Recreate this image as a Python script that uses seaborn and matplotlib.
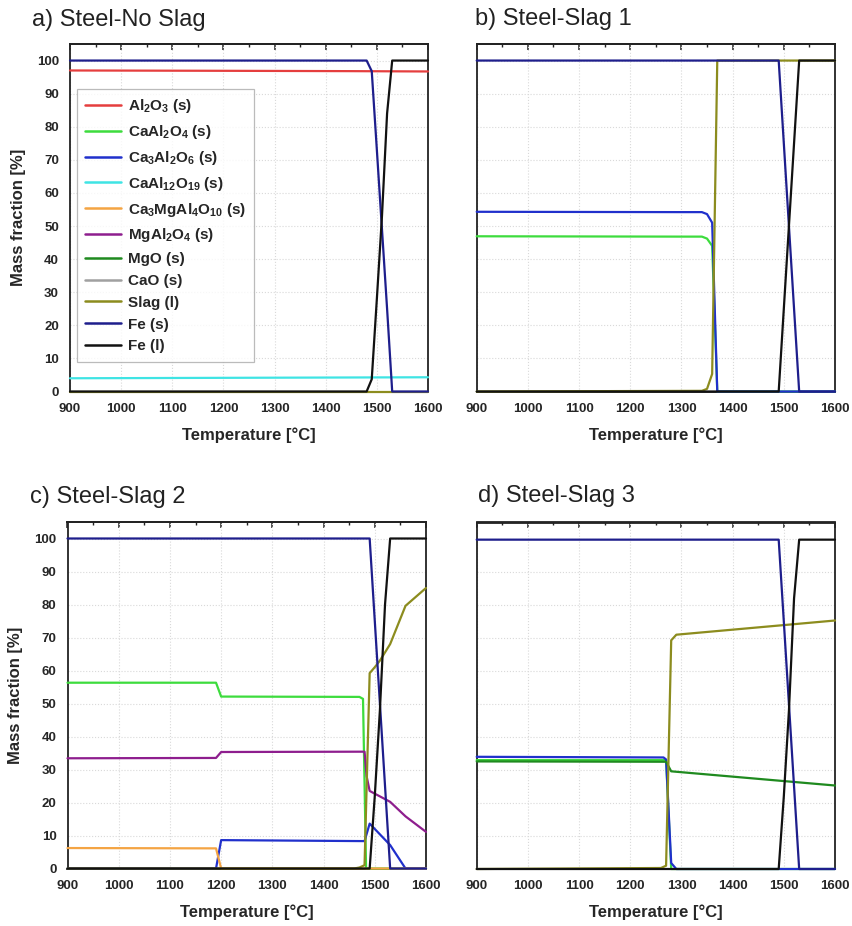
import matplotlib
matplotlib.use('Agg')
import matplotlib.pyplot as plt
import seaborn as sns
import pandas as pd
from matplotlib.lines import Line2D
from matplotlib.ticker import MultipleLocator

# ---------------- data ----------------
phase_names = [r'Al$_2$O$_3$ (s)', r'CaAl$_2$O$_4$ (s)', r'Ca$_3$Al$_2$O$_6$ (s)',
               r'CaAl$_{12}$O$_{19}$ (s)', r'Ca$_3$MgAl$_4$O$_{10}$ (s)', r'MgAl$_2$O$_4$ (s)',
               'MgO (s)', 'CaO (s)', 'Slag (l)', 'Fe (s)', 'Fe (l)']
phase_colors = ['#e53e3e', '#3ddc3d', '#2030cc', '#3fe4e4', '#f4a443', '#8e1e8e',
                '#1f8a1f', '#a0a0a0', '#8c8c1e', '#1e1e8c', '#111111']

panel_titles = ['a) Steel-No Slag', 'b) Steel-Slag 1', 'c) Steel-Slag 2', 'd) Steel-Slag 3']
x_ticks = [900, 1000, 1100, 1200, 1300, 1400, 1500, 1600]
y_ticks = [0, 10, 20, 30, 40, 50, 60, 70, 80, 90, 100]

# panel a
a_al2o3_T = [900, 1200, 1450, 1600]
a_al2o3_v = [97.0, 96.9, 96.8, 96.7]
a_caal12o19_T = [900, 1600]
a_caal12o19_v = [4.0, 4.3]
a_slag_T = [900, 1600]
a_slag_v = [0, 0]
a_fes_T = [900, 1480, 1490, 1500, 1510, 1520, 1530, 1600]
a_fes_v = [100, 100, 96.8, 73, 49, 25, 0, 0]
a_fel_T = [900, 1480, 1490, 1500, 1510, 1520, 1530, 1600]
a_fel_v = [0, 0, 3.7, 28, 53, 84, 100, 100]

# panel b
b_caal2o4_T = [900, 1300, 1340, 1350, 1360, 1370, 1600]
b_caal2o4_v = [46.9, 46.8, 46.8, 46.2, 44.0, 0, 0]
b_ca3al2o6_T = [900, 1300, 1340, 1350, 1360, 1370, 1600]
b_ca3al2o6_v = [54.3, 54.2, 54.2, 53.6, 51.0, 0, 0]
b_slag_T = [900, 1340, 1350, 1360, 1370, 1600]
b_slag_v = [0, 0.2, 0.8, 5.3, 100, 100]
b_fes_T = [900, 1490, 1500, 1510, 1520, 1530, 1600]
b_fes_v = [100, 100, 75, 50, 25, 0, 0]
b_fel_T = [900, 1490, 1500, 1510, 1520, 1530, 1600]
b_fel_v = [0, 0, 25, 50, 75, 100, 100]

# panel c
c_caal2o4_T = [900, 1190, 1200, 1470, 1477, 1483, 1600]
c_caal2o4_v = [56.3, 56.3, 52.1, 52.0, 51.4, 0, 0]
c_ca3al2o6_T = [900, 1190, 1200, 1480, 1490, 1530, 1560, 1600]
c_ca3al2o6_v = [0, 0, 8.6, 8.3, 13.6, 7.1, 0, 0]
c_ca3mgal4o10_T = [900, 1190, 1200, 1600]
c_ca3mgal4o10_v = [6.2, 6.1, 0, 0]
c_mgal2o4_T = [900, 1190, 1200, 1480, 1484, 1490, 1530, 1560, 1600]
c_mgal2o4_v = [33.4, 33.5, 35.3, 35.4, 28.0, 23.5, 20.2, 15.8, 11.1]
c_slag_T = [900, 1460, 1470, 1480, 1490, 1500, 1510, 1530, 1560, 1600]
c_slag_v = [0, 0, 0.3, 1.0, 59.2, 61.0, 63.0, 68.0, 79.6, 85.0]
c_fes_T = [900, 1490, 1500, 1510, 1520, 1530, 1600]
c_fes_v = [100, 100, 75, 50, 25, 0, 0]
c_fel_T = [900, 1490, 1500, 1510, 1520, 1530, 1600]
c_fel_v = [0, 0, 22, 48, 80, 100, 100]

# panel d
d_caal2o4_T = [900, 1270, 1280, 1600]
d_caal2o4_v = [33.0, 33.0, 0, 0]
d_ca3al2o6_T = [900, 1265, 1270, 1280, 1290, 1600]
d_ca3al2o6_v = [34.0, 33.8, 33.2, 1.8, 0, 0]
d_mgo_T = [900, 1270, 1280, 1600]
d_mgo_v = [32.6, 32.5, 29.6, 25.3]
d_slag_T = [900, 1260, 1270, 1280, 1290, 1600]
d_slag_v = [0, 0.3, 1.0, 69.3, 71.0, 75.3]
d_fes_T = [900, 1490, 1500, 1510, 1520, 1530, 1600]
d_fes_v = [99.8, 99.8, 75, 50, 25, 0, 0]
d_fel_T = [900, 1490, 1500, 1510, 1520, 1530, 1600]
d_fel_v = [0, 0, 22, 48, 82, 99.8, 99.8]

# (phase index, T, values) per panel
panel_series = [
    [(0, a_al2o3_T, a_al2o3_v), (3, a_caal12o19_T, a_caal12o19_v), (8, a_slag_T, a_slag_v),
     (9, a_fes_T, a_fes_v), (10, a_fel_T, a_fel_v)],
    [(1, b_caal2o4_T, b_caal2o4_v), (2, b_ca3al2o6_T, b_ca3al2o6_v), (8, b_slag_T, b_slag_v),
     (9, b_fes_T, b_fes_v), (10, b_fel_T, b_fel_v)],
    [(4, c_ca3mgal4o10_T, c_ca3mgal4o10_v), (1, c_caal2o4_T, c_caal2o4_v),
     (2, c_ca3al2o6_T, c_ca3al2o6_v), (5, c_mgal2o4_T, c_mgal2o4_v), (8, c_slag_T, c_slag_v),
     (9, c_fes_T, c_fes_v), (10, c_fel_T, c_fel_v)],
    [(2, d_ca3al2o6_T, d_ca3al2o6_v), (1, d_caal2o4_T, d_caal2o4_v), (6, d_mgo_T, d_mgo_v),
     (8, d_slag_T, d_slag_v), (9, d_fes_T, d_fes_v), (10, d_fel_T, d_fel_v)],
]

# ---------------- style ----------------
sns.set_theme(style='white')
plt.rcParams['font.family'] = ['Liberation Sans', 'DejaVu Sans']
plt.rcParams['mathtext.fontset'] = 'custom'
plt.rcParams['mathtext.rm'] = 'Liberation Sans:bold'
plt.rcParams['mathtext.it'] = 'Liberation Sans:bold'
plt.rcParams['mathtext.bf'] = 'Liberation Sans:bold'
plt.rcParams['mathtext.default'] = 'rm'

W, H = 852, 926
fig = plt.figure(figsize=(W / 100, H / 100), dpi=100)

# axes rectangles in pixels: left, top, right, bottom
rects_px = [(70, 44, 428, 391.5), (476.7, 44, 835, 391.5),
            (67.5, 522, 426, 868.5), (476.7, 522.5, 835, 869)]
title_px = [(32, 20), (475, 19), (30, 497), (478, 496)]

for i, (l, t, r, b) in enumerate(rects_px):
    ax = fig.add_axes([l / W, 1 - b / H, (r - l) / W, (b - t) / H])
    for idx, T, v in panel_series[i]:
        df = pd.DataFrame({'T': T, 'v': v})
        sns.lineplot(data=df, x='T', y='v', ax=ax, color=phase_colors[idx], lw=1.6,
                     estimator=None, sort=False, clip_on=False, zorder=3 + idx * 0.01)
    ax.set_xlim(900, 1600)
    ax.set_ylim(0, 105)
    ax.set_xticks(x_ticks)
    ax.set_xticklabels([str(x) for x in x_ticks])
    ax.xaxis.set_minor_locator(MultipleLocator(50))
    ax.tick_params(axis='x', which='major', direction='out', length=4.5, width=1.1,
                   color='#222222', pad=3.5, labelsize=9.5)
    ax.tick_params(axis='x', which='minor', direction='out', length=2.5, width=1.0,
                   color='#222222')
    for lab in ax.get_xticklabels():
        lab.set_fontweight('bold')
    if i in (0, 2):
        ax.set_yticks(y_ticks)
        ax.set_yticklabels([str(y) for y in y_ticks])
        ax.yaxis.set_minor_locator(MultipleLocator(5))
        ax.tick_params(axis='y', which='major', direction='out', length=4.5, width=1.1,
                       color='#222222', pad=3.5, labelsize=9.5)
        ax.tick_params(axis='y', which='minor', direction='out', length=2.5, width=1.0,
                       color='#222222')
        for lab in ax.get_yticklabels():
            lab.set_fontweight('bold')
        ax.set_ylabel('Mass fraction [%]', fontsize=12, fontweight='bold', labelpad=8)
    else:
        ax.set_yticks(y_ticks)
        ax.set_yticklabels([])
        ax.tick_params(axis='y', which='both', length=0)
        ax.set_ylabel('')
    ax.set_xlabel('Temperature [°C]', fontsize=12, fontweight='bold', labelpad=9)
    ax.grid(True, which='major', linestyle=':', color='#d9d9d9', lw=0.8)
    ax.set_axisbelow(True)
    for s in ax.spines.values():
        s.set_visible(True)
        s.set_color('#222222')
        s.set_linewidth(1.3)
    sec = ax.secondary_xaxis('top')
    sec.set_xticks(x_ticks)
    sec.xaxis.set_minor_locator(MultipleLocator(50))
    sec.tick_params(axis='x', which='major', direction='in', length=4, width=1.1,
                    color='#222222', labeltop=False)
    sec.tick_params(axis='x', which='minor', direction='in', length=2.5, width=1.0,
                    color='#222222')
    sec.spines['top'].set_color('#222222')
    sec.spines['top'].set_linewidth(1.3)

    tx, ty = title_px[i]
    fig.text(tx / W, 1 - ty / H, panel_titles[i], fontsize=17, ha='left', va='center',
             color='#222222')

    if i == 0:
        handles = [Line2D([0], [0], color=c, lw=1.8) for c in phase_colors]
        leg = ax.legend(handles, phase_names, loc='upper left',
                        bbox_to_anchor=(0.0187, 0.8705), borderaxespad=0,
                        frameon=True, fancybox=False, edgecolor='#aaaaaa',
                        prop={'weight': 'bold', 'size': 11}, handlelength=2.35,
                        handletextpad=0.45, labelspacing=0.51, borderpad=0.55)
        leg.get_frame().set_linewidth(0.9)
        leg.set_zorder(10)

fig.savefig('out.png', dpi=100)
